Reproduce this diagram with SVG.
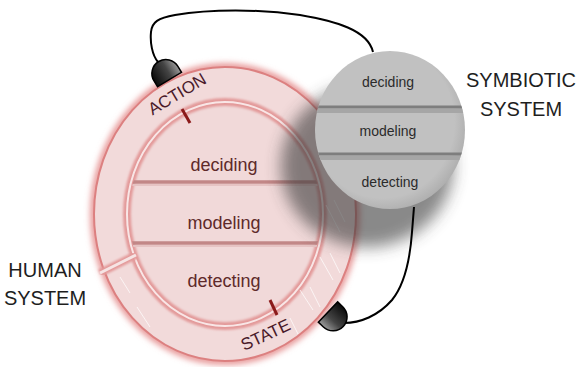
<svg xmlns="http://www.w3.org/2000/svg" width="577" height="367" viewBox="0 0 577 367">
<style>
.hlbl{font-family:"Liberation Sans",Arial,sans-serif;font-size:18px;fill:#5e2a2a;text-anchor:middle}
.glbl{font-family:"Liberation Sans",Arial,sans-serif;font-size:14px;fill:#2b2b2b;text-anchor:middle}
.title{font-family:"Liberation Sans",Arial,sans-serif;font-size:20px;fill:#1e1e1e;text-anchor:middle}
.arc{font-family:"Liberation Sans",Arial,sans-serif;font-size:17px;fill:#4a1a2a;text-anchor:middle}
.tick{stroke:#8b1a1a;stroke-width:3}
.wire{fill:none;stroke:#000;stroke-width:2}
.cap{stroke:#000;stroke-width:1.5;fill:url(#capg)}
.tex{stroke:#fff;stroke-width:1;opacity:0.7}
</style>
<defs>
<filter id="blur3" x="-20%" y="-20%" width="140%" height="140%"><feGaussianBlur stdDeviation="3"/></filter>
<filter id="blur1" x="-10%" y="-10%" width="120%" height="120%"><feGaussianBlur stdDeviation="1.3"/></filter>
<filter id="shadow" x="-50%" y="-50%" width="200%" height="200%"><feGaussianBlur stdDeviation="8"/></filter>
<linearGradient id="capg" x1="0" y1="0" x2="1" y2="0">
<stop offset="0" stop-color="#0a0a0a"/><stop offset="0.6" stop-color="#444"/><stop offset="1" stop-color="#9a9a9a"/>
</linearGradient>
<radialGradient id="grayg" cx="0.45" cy="0.45" r="0.6">
<stop offset="0.8" stop-color="#c1c1c1"/><stop offset="1" stop-color="#a9a9a9"/>
</radialGradient>
<clipPath id="gclip"><ellipse cx="390" cy="130" rx="75" ry="79"/></clipPath>
<clipPath id="hclip"><ellipse cx="225" cy="214" rx="96" ry="110"/></clipPath>
</defs>
<rect width="577" height="367" fill="#fff"/>

<g id="human-system">
<ellipse cx="225" cy="214" rx="131" ry="147" fill="none" stroke="#e48a8a" stroke-width="7" filter="url(#blur3)"/>
<ellipse cx="225" cy="214" rx="131" ry="147" fill="#f2dada" stroke="#dc8080" stroke-width="2"/>
<ellipse cx="225" cy="214" rx="98" ry="112" fill="#f1d9d9" stroke="#e39a9a" stroke-width="8" filter="url(#blur1)"/>
<ellipse cx="225" cy="214" rx="98" ry="112" fill="none" stroke="#fbeeee" stroke-width="2" opacity="0.9"/>
<g clip-path="url(#hclip)">
<line x1="120" y1="182" x2="330" y2="182" stroke="#c28787" stroke-width="3.5"/>
<line x1="120" y1="185" x2="330" y2="185" stroke="#e6c3c3" stroke-width="2"/>
<line x1="120" y1="243" x2="330" y2="243" stroke="#c28787" stroke-width="3.5"/>
<line x1="120" y1="246" x2="330" y2="246" stroke="#e6c3c3" stroke-width="2"/>
</g>
<line x1="100" y1="273" x2="136" y2="255" stroke="#e39a9a" stroke-width="8" filter="url(#blur1)"/>
<line x1="100" y1="273" x2="136" y2="255" stroke="#f6e4e4" stroke-width="3"/>
<g id="texture">
<line class="tex" x1="300" y1="290" x2="313" y2="310"/>
<line class="tex" x1="310" y1="287" x2="320" y2="307"/>
<line class="tex" x1="320" y1="257" x2="333" y2="280"/>
<line class="tex" x1="330" y1="253" x2="340" y2="273"/>
<line class="tex" x1="326" y1="205" x2="340" y2="232"/>
<line class="tex" x1="334" y1="200" x2="345" y2="222"/>
<line class="tex" x1="137" y1="307" x2="150" y2="327"/>
<line class="tex" x1="120" y1="277" x2="130" y2="293"/>
<line class="tex" x1="290" y1="318" x2="298" y2="334"/>
</g>
<text class="hlbl" x="224" y="171">deciding</text>
<text class="hlbl" x="224" y="229">modeling</text>
<text class="hlbl" x="224" y="287">detecting</text>
<line class="tick" x1="182" y1="109" x2="190" y2="123"/>
<line class="tick" x1="270" y1="300" x2="277" y2="315"/>
<text class="arc" transform="translate(180,99) rotate(-31)">ACTION</text>
<text class="arc" transform="translate(268,340) rotate(-25)">STATE</text>
</g>

<ellipse id="symbiotic-shadow" cx="367" cy="166" rx="86" ry="81" fill="#3a3a3a" opacity="0.6" filter="url(#shadow)"/>

<g id="symbiotic-system">
<ellipse cx="390" cy="130" rx="75" ry="79" fill="url(#grayg)"/>
<g clip-path="url(#gclip)">
<line x1="300" y1="107" x2="480" y2="107" stroke="#7e7e7e" stroke-width="3"/>
<line x1="300" y1="111" x2="480" y2="111" stroke="#a6a6a6" stroke-width="4"/>
<line x1="300" y1="154" x2="480" y2="154" stroke="#7e7e7e" stroke-width="3"/>
<line x1="300" y1="158" x2="480" y2="158" stroke="#a6a6a6" stroke-width="4"/>
</g>
<text class="glbl" x="388" y="87">deciding</text>
<text class="glbl" x="388" y="136">modeling</text>
<text class="glbl" x="390" y="187">detecting</text>
</g>

<g id="connectors">
<path class="wire" d="M158,62 C152,55 150,42 151,32 C152,22 158,18 175,15 C210,9 260,9 300,15 C335,21 368,30 373,52"/>
<path class="wire" d="M344,323 C360,323 378,316 392,300 C405,284 410,260 412,232 L414,207"/>
</g>

<g id="action-port">
<path class="cap" transform="translate(169.5,79.5) rotate(-31)" d="M-14,0 L-14,-7 A14,14 0 0 1 14,-7 L14,0 Z"/>
</g>
<g id="state-port">
<path class="cap" transform="translate(328,312) rotate(133.6)" d="M-14,0 L-14,-7 A14,14 0 0 1 14,-7 L14,0 Z"/>
</g>

<g id="labels">
<text class="title" x="521" y="87">SYMBIOTIC</text>
<text class="title" x="521" y="116">SYSTEM</text>
<text class="title" x="45" y="277">HUMAN</text>
<text class="title" x="45" y="305">SYSTEM</text>
</g>
</svg>
